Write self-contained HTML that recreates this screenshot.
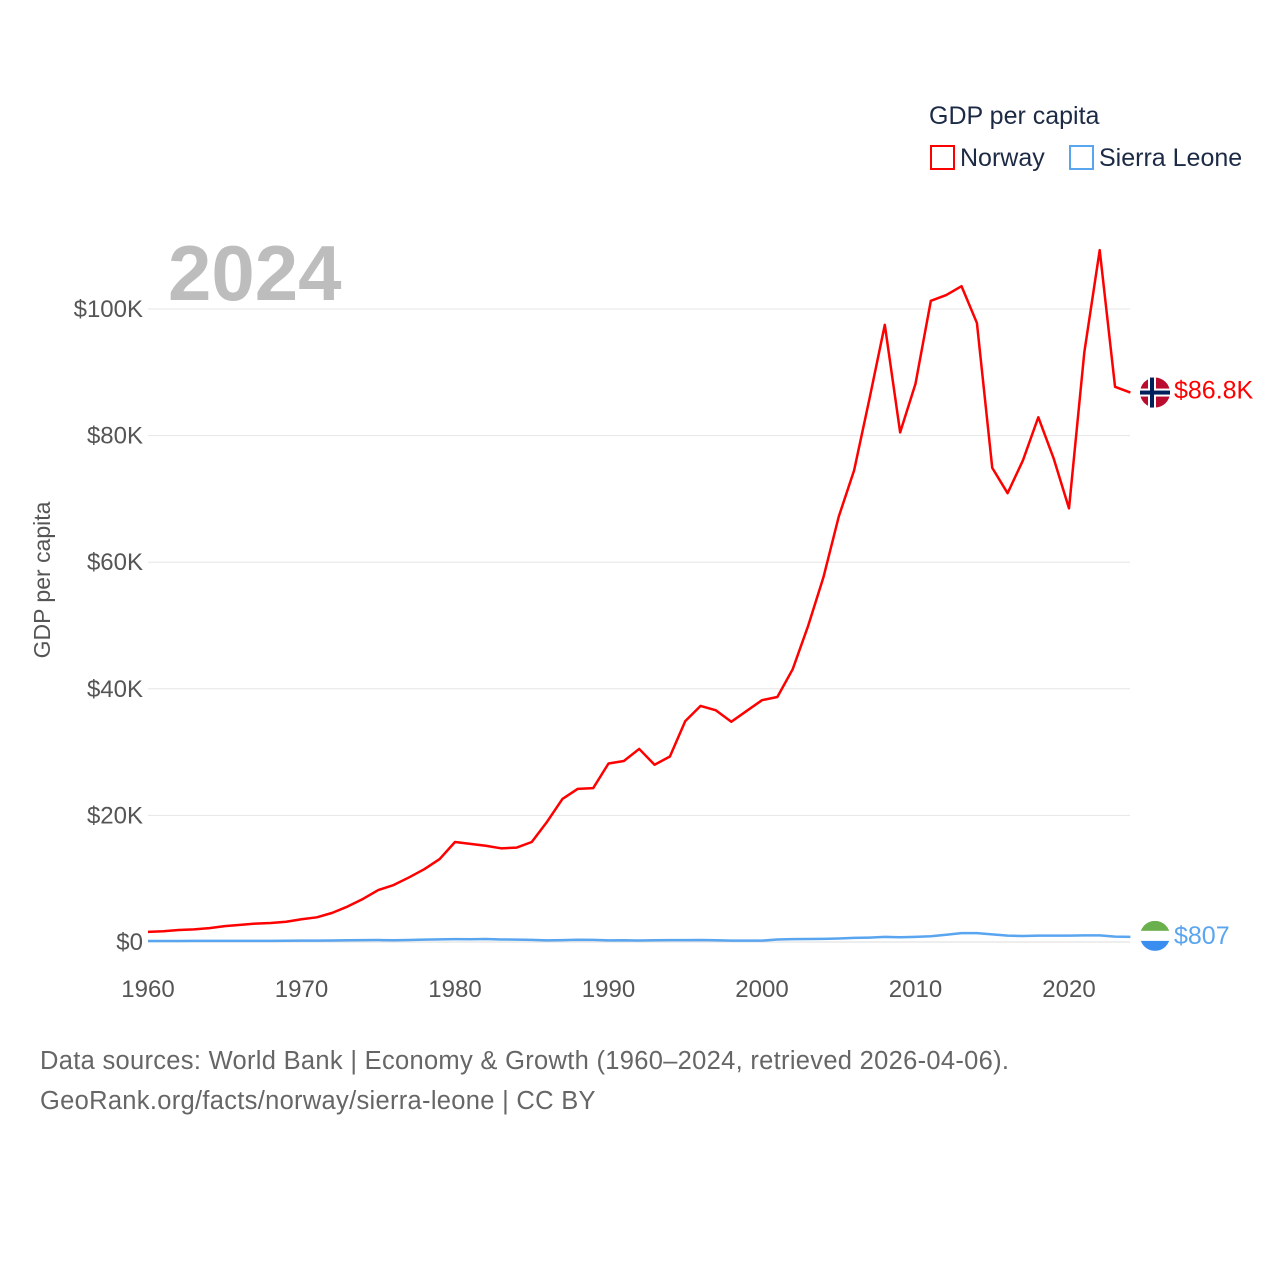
<!DOCTYPE html>
<html><head><meta charset="utf-8"><style>
body{margin:0;background:#fff;font-family:"Liberation Sans",sans-serif}
svg text{font-family:"Liberation Sans",sans-serif}
</style></head><body>
<svg id="chart" width="1280" height="1280" viewBox="0 0 1280 1280">
<g id="grid"></g>
<g id="yticks"></g>
<g id="xticks"></g>
<text x="168" y="300" font-size="78" font-weight="bold" fill="#bdbdbd">2024</text>
<text transform="translate(50,580) rotate(-90)" text-anchor="middle" font-size="23" fill="#555">GDP per capita</text>
<g id="series"></g>
<g>
<text x="929" y="124" font-size="25" fill="#1c2a45">GDP per capita</text>
<rect x="931" y="146" width="23" height="23" fill="none" stroke="#f00" stroke-width="2"/>
<text x="960" y="166" font-size="25" fill="#1c2a45">Norway</text>
<rect x="1070" y="146" width="23" height="23" fill="none" stroke="#5aa5f0" stroke-width="2"/>
<text x="1099" y="166" font-size="25" fill="#1c2a45">Sierra Leone</text>
</g>
<text x="40" y="1069" font-size="25.5" letter-spacing="0.3" fill="#666">Data sources: World Bank | Economy &amp; Growth (1960–2024, retrieved 2026-04-06).</text>
<text x="40" y="1109" font-size="25.5" letter-spacing="0.3" fill="#666">GeoRank.org/facts/norway/sierra-leone | CC BY</text>
</svg>
<script>
const years=[];for(let y=1960;y<=2024;y++)years.push(y);
const norway=[1.6,1.7,1.9,2.0,2.2,2.5,2.7,2.9,3.0,3.2,3.6,3.9,4.6,5.6,6.8,8.2,9.0,10.2,11.5,13.1,15.8,15.5,15.2,14.8,14.9,15.8,19.0,22.6,24.2,24.3,28.2,28.6,30.5,28.0,29.3,34.9,37.3,36.6,34.8,36.5,38.2,38.7,43.1,49.9,57.6,67.2,74.5,85.8,97.5,80.5,88.2,101.3,102.2,103.6,97.8,74.9,70.9,76.1,82.9,76.4,68.5,93.2,109.3,87.7,86.8];
const sierra=[0.15,0.16,0.16,0.17,0.17,0.18,0.18,0.17,0.18,0.2,0.22,0.22,0.24,0.27,0.3,0.31,0.28,0.32,0.37,0.42,0.45,0.44,0.47,0.4,0.38,0.33,0.25,0.3,0.36,0.33,0.25,0.27,0.23,0.27,0.3,0.3,0.32,0.28,0.22,0.22,0.21,0.4,0.45,0.47,0.5,0.55,0.65,0.7,0.8,0.75,0.8,0.9,1.15,1.4,1.4,1.2,1.0,0.95,1.0,1.0,1.0,1.05,1.05,0.85,0.807];
const yTicks=[0,20,40,60,80,100];
const yLabels=["$0","$20K","$40K","$60K","$80K","$100K"];
const xTicks=[1960,1970,1980,1990,2000,2010,2020];
const NS="http://www.w3.org/2000/svg";
const x=v=>148+(v-1960)*(1069-148)/60;
const y=v=>942-v*6.33;
function mk(t,a,p){const e=document.createElementNS(NS,t);for(const k in a)e.setAttribute(k,a[k]);p.appendChild(e);return e;}
const grid=document.getElementById('grid'),yt=document.getElementById('yticks'),xt=document.getElementById('xticks'),ser=document.getElementById('series');
yTicks.forEach((v,i)=>{
 const l=mk('line',{x1:148,x2:1130,y1:y(v),y2:y(v),stroke:v===0?'#ddd':'#e6e6e6','stroke-width':1},grid);
 
 
 const t=mk('text',{x:143,y:y(v)+8,'text-anchor':'end','font-size':24,fill:'#555'},yt);t.textContent=yLabels[i];
 
 
});
xTicks.forEach(v=>{
 const t=mk('text',{x:x(v),y:997,'text-anchor':'middle','font-size':24,fill:'#555'},xt);t.textContent=v;
 
 
});
function line(d,c,name){
 const p=mk('polyline',{points:d.map((v,i)=>x(years[i])+','+y(v)).join(' '),fill:'none',stroke:c,'stroke-width':2.5,'stroke-linejoin':'round'},ser);
 
 
}
line(sierra,'#5aa5f0','sierra-leone-line');
line(norway,'#f00','norway-line');
const n=norway[norway.length-1],s=sierra[sierra.length-1];
const fx=1155;
const ny=y(n);
const fg=mk('g',{},ser);


mk('circle',{cx:fx,cy:ny,r:15,fill:'#ba0c2f'},fg);
mk('rect',{x:fx-15,y:ny-4,width:30,height:8,fill:'#fff'},fg);
mk('rect',{x:fx-7,y:ny-15,width:8,height:30,fill:'#fff'},fg);
mk('rect',{x:fx-15,y:ny-2,width:30,height:4,fill:'#00205b'},fg);
mk('rect',{x:fx-5,y:ny-15,width:4,height:30,fill:'#00205b'},fg);
const nl=mk('text',{x:1174,y:ny+6,'font-size':25,fill:'#f00'},ser);nl.textContent='$'+n.toFixed(1)+'K';


const sy=y(s)-1;
const sg=mk('g',{},ser);


mk('clipPath',{id:'sc'},sg);mk('circle',{cx:fx,cy:sy,r:15},sg.lastChild);
const sgi=mk('g',{'clip-path':'url(#sc)'},sg);
mk('rect',{x:fx-15,y:sy-15,width:30,height:10,fill:'#6ab04c'},sgi);
mk('rect',{x:fx-15,y:sy-5,width:30,height:10,fill:'#fff'},sgi);
mk('rect',{x:fx-15,y:sy+5,width:30,height:10,fill:'#3a8ef0'},sgi);
const sl=mk('text',{x:1174,y:sy+8,'font-size':25,fill:'#5aa5f0'},ser);sl.textContent='$'+Math.round(s*1000);


</script>
</body></html>
